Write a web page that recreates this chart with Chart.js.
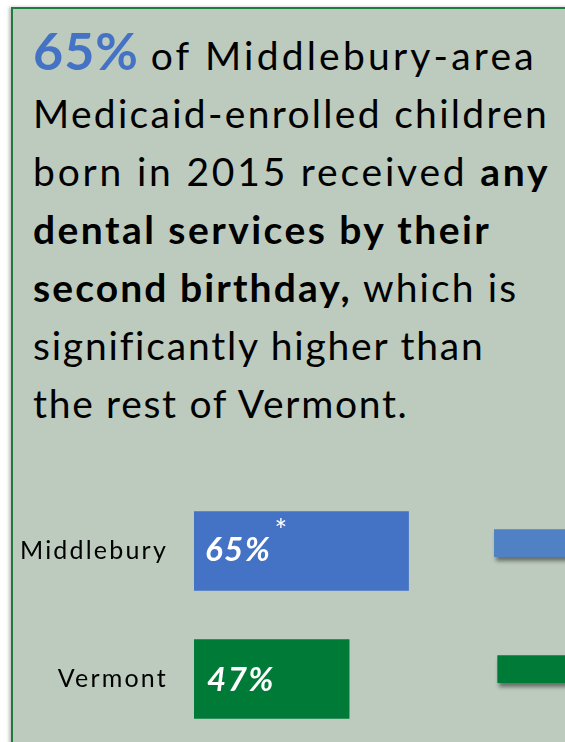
<!DOCTYPE html>
<html>
<head>
<meta charset="utf-8">
<script src="https://cdn.jsdelivr.net/npm/chart.js@4"></script>
<style>
  html, body { margin:0; padding:0; background:#ffffff; width:565px; height:742px; overflow:hidden; }
  #panel { position:absolute; left:11px; top:7px; width:600px; height:800px; background:#bdcbbe;
           border-left:2px solid #1f7a3e; border-top:2px solid #1f7a3e; box-shadow:-2px 0 3px rgba(0,0,0,0.25); }
  #text { position:absolute; left:33px; top:21px; font-family:Lato, sans-serif; font-size:39px; line-height:58px;
          color:#000; white-space:nowrap; letter-spacing:1.8px; }
  #text .big { color:#4472c4; font-weight:bold; font-size:52px; letter-spacing:1px; }
  #text b { font-weight:bold; }
  #wrap { position:absolute; left:0; top:446px; width:565px; height:338px; }
</style>
</head>
<body>
<div id="panel"></div>
<div id="text"><span class="big">65%</span> <span style="letter-spacing:3.2px">of Middlebury-area</span><br><span style="letter-spacing:2.3px">Medicaid-enrolled children</span><br><span style="letter-spacing:2.8px">born in 2015 received <b>any</b></span><br><b style="letter-spacing:2.45px">dental services by their</b><br><span style="letter-spacing:2.1px"><b>second birthday,</b> which is</span><br><span>significantly higher than</span><br><span style="letter-spacing:1.7px">the rest of Vermont.</span></div>
<div id="wrap"><canvas id="c" width="565" height="338"></canvas></div>
<script>
const categories = ['Middlebury', 'Vermont'];
const values = [65, 47];
const valueLabels = ['65%', '47%'];
const notes = ['*', ''];
const barColors = ['#4472c4', '#007a37'];
const decorStart = [91, 92];
const decorEnd = [130, 130];
const decorColors = ['#4f81c4', '#007a37'];

const spacingPlugin = {
  id: 'spacing',
  beforeDraw(chart) { chart.ctx.letterSpacing = '2.2px'; }
};

const shadowPlugin = {
  id: 'shadow',
  beforeDatasetDraw(chart, args) {
    if (args.index === 1) {
      const ctx = chart.ctx;
      ctx.save();
      ctx.shadowColor = 'rgba(0,0,0,0.45)';
      ctx.shadowOffsetX = 2;
      ctx.shadowOffsetY = 4;
      ctx.shadowBlur = 4;
    }
  },
  afterDatasetDraw(chart, args) {
    if (args.index === 1) chart.ctx.restore();
  }
};

const labelPlugin = {
  id: 'valueLabels',
  afterDatasetsDraw(chart) {
    const ctx = chart.ctx;
    const meta = chart.getDatasetMeta(0);
    ctx.save();
    meta.data.forEach((bar, i) => {
      ctx.letterSpacing = '1.5px';
      ctx.fillStyle = '#ffffff';
      ctx.font = 'italic bold 33px Lato, sans-serif';
      ctx.textBaseline = 'middle';
      ctx.textAlign = 'left';
      const x = bar.base + 11 + i * 2;
      const y = bar.y - 1 + i * 2;
      ctx.fillText(valueLabels[i], x, y);
      if (notes[i]) {
        const w = ctx.measureText(valueLabels[i]).width;
        ctx.letterSpacing = '0px';
        ctx.font = '30px Lato, sans-serif';
        ctx.fillText(notes[i], x + w + 3, y - 19);
      }
    });
    ctx.restore();
  }
};

new Chart(document.getElementById('c'), {
  type: 'bar',
  data: {
    labels: categories,
    datasets: [
      { data: values, backgroundColor: barColors, barThickness: 79, grouped: false, order: 2 },
      { data: categories.map((c, i) => ({ y: i, x: [decorStart[i], decorEnd[i]] })),
        yAxisID: 'y2', backgroundColor: decorColors, barThickness: 27, grouped: false, order: 1 }
    ]
  },
  options: {
    indexAxis: 'y',
    responsive: false,
    animation: false,
    layout: { padding: 0 },
    plugins: { legend: { display: false }, tooltip: { enabled: false } },
    scales: {
      x: { display: false, min: 0, max: 112.4 },
      y: {
        grid: { display: false, drawTicks: false },
        border: { display: false },
        ticks: { color: '#000', font: { family: 'Lato, sans-serif', size: 25 }, padding: 26 },
        afterFit(scale) { scale.width = 194; }
      },
      y2: { type: 'linear', display: false, reverse: true, offset: false, min: -0.4457, max: 1.586 }
    }
  },
  plugins: [spacingPlugin, shadowPlugin, labelPlugin]
});
</script>
</body>
</html>
